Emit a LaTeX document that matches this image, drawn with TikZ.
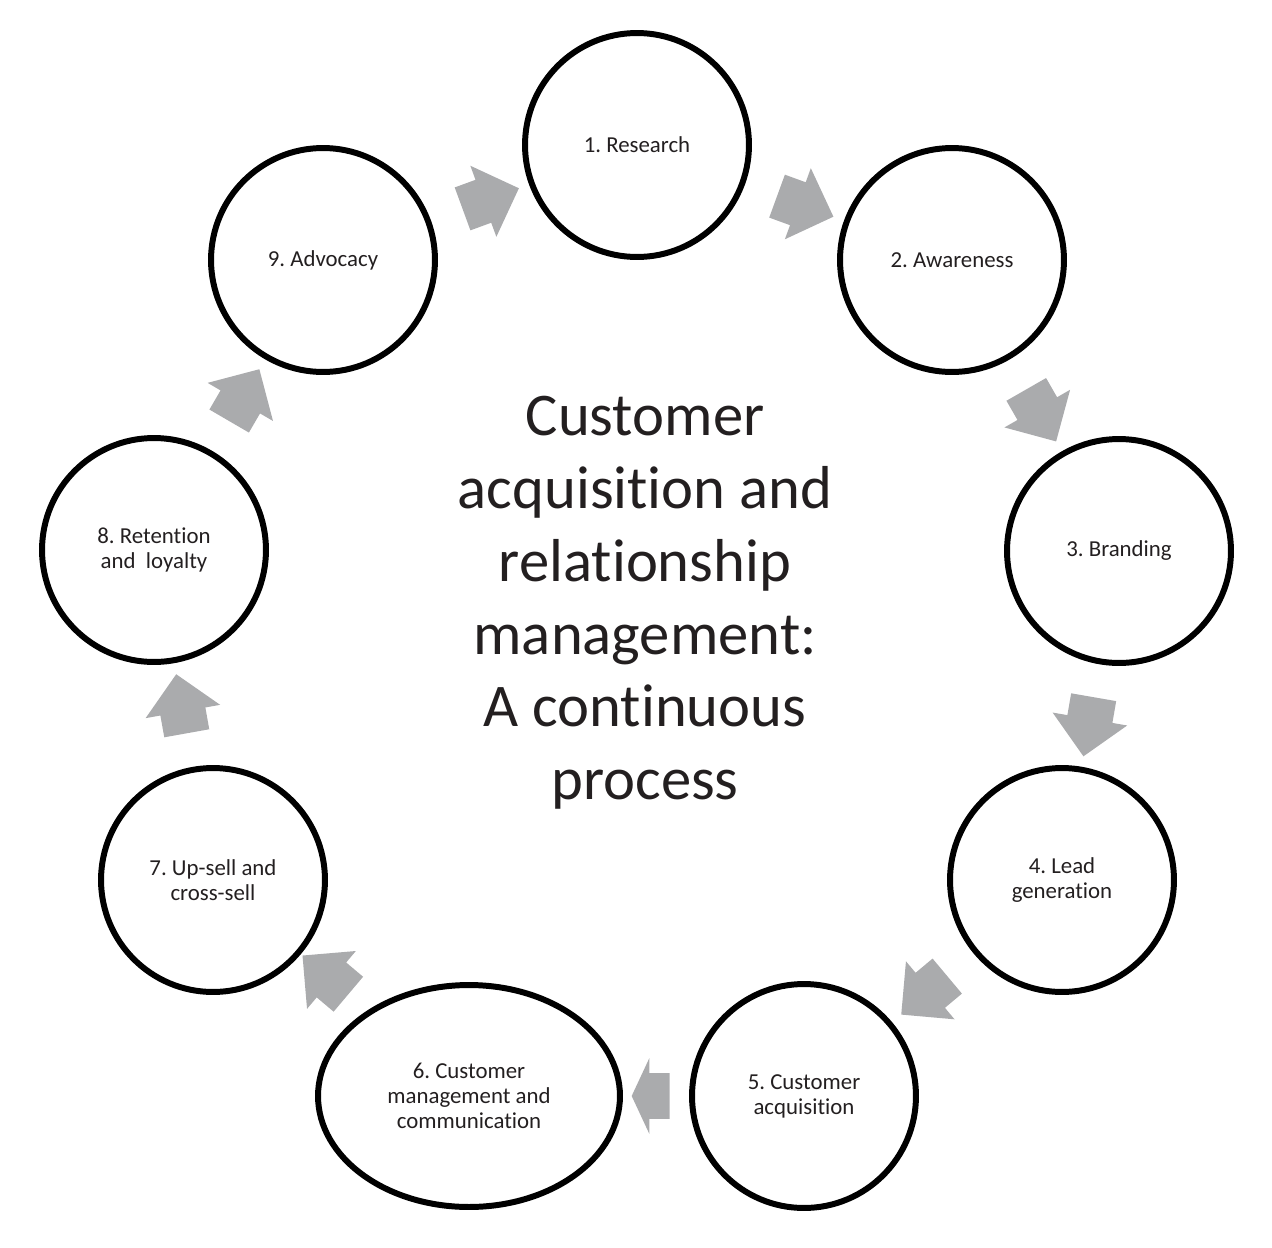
\documentclass[tikz,border=0pt]{standalone}
\usepackage{fontspec}
\setmainfont{Carlito}[Ligatures={NoCommon}]
\usetikzlibrary{shapes.geometric, shapes.arrows, positioning, calc}
\definecolor{arrowgray}{RGB}{170,171,173}
\definecolor{labelink}{RGB}{35,31,32}
\frenchspacing

\begin{document}
\begin{tikzpicture}[x=0.02cm, y=-0.02cm,
    stage/.style={circle, draw=black, line width=3.4pt, minimum size=4.48cm, inner sep=0pt,
      align=center, text=labelink, font=\fontsize{13}{14.2}\selectfont},
    flow/.style={single arrow, fill=arrowgray, draw=none, minimum height=1.2cm,
      single arrow head extend=0.3cm, inner xsep=0pt, inner ysep=0.45cm,
      sloped, allow upside down}]
    \useasboundingbox (0, 0) rectangle (1272, 1248);

    % Stages round the cycle
    \node[stage] (research)  at (637, 145)  {1. Research};
    \node[stage] (awareness) at (952, 260)  {2. Awareness};
    \node[stage] (branding)  at (1119, 551) {3. Branding};
    \node[stage] (lead)      at (1062, 880) {4. Lead\\generation};
    \node[stage] (acquire)   at (804, 1096) {5. Customer\\acquisition};
    \node[stage, ellipse, minimum width=6.04cm, minimum height=4.44cm]
                 (manage)    at (469, 1096) {6. Customer\\management and\\communication};
    \node[stage] (upsell)    at (213, 880)  {7. Up-sell and\\cross-sell};
    \node[stage] (retain)    at (154, 550)  {8. Retention\\and\ \ loyalty};
    \node[stage] (advocacy)  at (323, 260)  {9. Advocacy};

    % Block arrows between the stages
    \foreach \from/\to in {advocacy/research, research/awareness, awareness/branding,
        branding/lead, lead/acquire, manage/upsell, upsell/retain, retain/advocacy}
      \path (\from) -- node[flow] {} (\to);
    \path (acquire) -- node[flow, minimum height=0.76cm, single arrow tip angle=130] {} (manage); % short one

    % Title in the middle
    \node[align=center, text=labelink, font=\fontsize{34.5}{41.4}\selectfont] (title) at (645, 603)
      {Customer\\acquisition and\\relationship\\management:\\A continuous\\process};
\end{tikzpicture}
\end{document}
